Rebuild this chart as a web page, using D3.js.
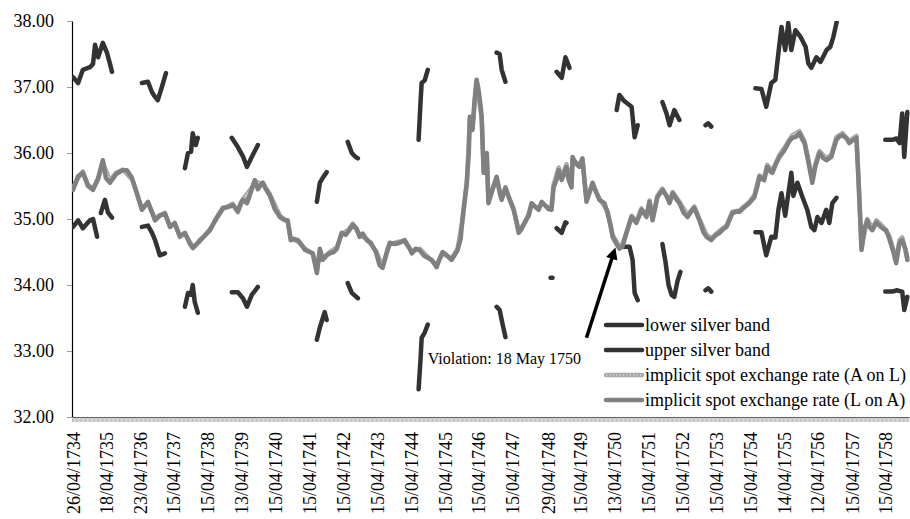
<!DOCTYPE html>
<html>
<head>
<meta charset="utf-8">
<title>Silver bands and implicit spot exchange rates</title>
<style>
  html,body{margin:0;padding:0;background:#fff;}
  svg text{font-family:'Liberation Serif','Times New Roman',serif !important;fill:#000;}
</style>
</head>
<body>
<svg id="chart"></svg>
<script src="https://d3js.org/d3.v7.min.js"></script>
<script>
var width = 910, height = 519;

// x values are decimal years, y values are the exchange rate
var dateLabels = ["26/04/1734","18/04/1735","23/04/1736","15/04/1737","15/04/1738","13/04/1739",
  "15/04/1740","15/04/1741","15/04/1742","15/04/1743","15/04/1744","15/04/1745","15/04/1746",
  "15/04/1747","29/04/1748","15/04/1749","13/04/1750","15/04/1751","15/04/1752","15/04/1753",
  "15/04/1754","14/04/1755","12/04/1756","15/04/1757","15/04/1758"];
var yTicks = [32, 33, 34, 35, 36, 37, 38];

// null = no band observed
var lowerBand = [
  [1734.35,34.88],[1734.50,34.98],[1734.64,34.86],[1734.85,34.98],[1734.94,35.00],[1735.06,34.73],[1735.11,null],
  [1735.17,35.09],[1735.29,35.29],[1735.38,35.10],[1735.50,35.02],[1735.55,null],
  [1736.38,34.88],[1736.56,34.90],[1736.68,34.79],[1736.77,34.68],[1736.91,34.45],[1737.06,34.48],[1737.10,null],
  [1737.65,33.67],[1737.74,33.88],[1737.83,33.85],[1737.88,34.00],[1737.94,33.74],[1738.03,33.58],[1738.08,null],
  [1739.03,33.89],[1739.21,33.89],[1739.36,33.80],[1739.48,33.67],[1739.62,33.85],[1739.80,33.97],[1739.85,null],
  [1741.54,33.17],[1741.63,33.36],[1741.77,33.59],[1741.83,33.47],[1741.88,null],
  [1742.45,34.03],[1742.57,33.88],[1742.75,33.80],[1742.80,null],
  [1744.54,32.42],[1744.60,32.90],[1744.63,33.20],[1744.72,33.28],[1744.81,33.40],[1744.86,null],
  [1746.84,33.67],[1746.93,33.62],[1746.99,33.47],[1747.10,33.21],[1747.15,null],
  [1748.43,34.11],[1748.49,34.11],[1748.54,null],
  [1748.61,34.86],[1748.76,34.79],[1748.87,34.95],[1748.90,34.94],[1748.95,null],
  [1750.58,34.58],[1750.76,34.58],[1750.85,34.38],[1750.91,33.88],[1751.00,33.77],[1751.05,null],
  [1751.73,34.62],[1751.82,34.35],[1751.91,34.00],[1752.00,33.85],[1752.08,33.82],[1752.17,34.05],[1752.26,34.20],[1752.31,null],
  [1753.00,33.92],[1753.08,33.95],[1753.17,33.90],[1753.22,null],
  [1754.47,34.80],[1754.65,34.80],[1754.79,34.45],[1754.94,34.73],[1755.06,34.72],[1755.15,35.14],[1755.24,35.39],
  [1755.35,35.05],[1755.53,35.70],[1755.59,35.35],[1755.71,35.55],[1755.86,35.33],[1756.00,35.14],[1756.12,34.88],
  [1756.21,34.83],[1756.30,35.03],[1756.42,34.94],[1756.56,35.14],[1756.65,34.94],[1756.74,35.24],[1756.86,35.32],[1756.91,null],
  [1758.30,33.90],[1758.51,33.90],[1758.63,33.92],[1758.80,33.90],[1758.86,33.62],[1758.95,33.82]
];

var upperBand = [
  [1734.35,37.15],[1734.50,37.06],[1734.64,37.26],[1734.85,37.30],[1734.94,37.35],[1735.00,37.64],[1735.09,37.45],
  [1735.23,37.67],[1735.35,37.52],[1735.44,37.35],[1735.50,37.23],[1735.55,null],
  [1736.38,37.06],[1736.56,37.08],[1736.68,36.92],[1736.77,36.85],[1736.85,36.80],[1736.97,37.00],[1737.09,37.21],[1737.14,null],
  [1737.65,35.77],[1737.74,36.00],[1737.83,36.02],[1737.88,36.30],[1737.97,36.12],[1738.03,36.23],[1738.08,null],
  [1739.03,36.23],[1739.21,36.09],[1739.36,35.95],[1739.48,35.79],[1739.62,35.94],[1739.80,36.12],[1739.85,null],
  [1741.54,35.26],[1741.63,35.55],[1741.71,35.62],[1741.83,35.71],[1741.88,null],
  [1742.45,36.17],[1742.57,36.00],[1742.66,35.95],[1742.75,35.92],[1742.80,null],
  [1744.54,36.20],[1744.60,36.80],[1744.63,37.06],[1744.72,37.10],[1744.81,37.26],[1744.86,null],
  [1746.84,37.52],[1746.93,37.50],[1746.99,37.26],[1747.10,37.08],[1747.15,null],
  [1748.61,37.23],[1748.76,37.14],[1748.87,37.45],[1748.99,37.29],[1749.04,null],
  [1750.38,36.65],[1750.46,36.88],[1750.58,36.80],[1750.67,36.76],[1750.82,36.70],[1750.91,36.24],[1751.00,36.42],[1751.05,null],
  [1751.73,36.77],[1751.85,36.60],[1751.94,36.42],[1752.08,36.65],[1752.23,36.50],[1752.28,null],
  [1753.00,36.42],[1753.08,36.45],[1753.17,36.40],[1753.22,null],
  [1754.47,36.98],[1754.65,36.97],[1754.79,36.70],[1754.94,37.06],[1755.06,37.11],[1755.15,37.52],[1755.24,37.91],
  [1755.35,37.56],[1755.44,37.97],[1755.53,37.56],[1755.65,37.86],[1755.80,37.76],[1755.95,37.61],[1756.03,37.36],
  [1756.12,37.29],[1756.27,37.45],[1756.39,37.38],[1756.57,37.56],[1756.68,37.61],[1756.77,37.76],[1756.86,37.97],[1756.95,38.20],[1757.00,null],
  [1758.30,36.20],[1758.51,36.20],[1758.63,36.22],[1758.72,36.15],[1758.80,36.60],[1758.86,35.94],[1758.95,36.62]
];

var spotAonL = [
  [1734.35,35.48],[1734.50,35.62],[1734.64,35.72],[1734.79,35.52],[1734.94,35.46],[1735.09,35.60],[1735.23,35.85],[1735.44,35.58],
  [1735.62,35.70],[1735.82,35.75],[1736.09,35.60],[1736.23,35.38],[1736.38,35.16],[1736.56,35.24],[1736.77,35.00],[1736.91,35.06],
  [1737.06,35.07],[1737.21,34.90],[1737.35,34.92],[1737.50,34.75],[1737.65,34.78],[1737.88,34.58],[1738.09,34.66],[1738.39,34.85],
  [1738.77,35.15],[1739.06,35.23],[1739.21,35.10],[1739.36,35.30],[1739.62,35.47],[1739.71,35.57],[1739.95,35.53],[1740.15,35.38],
  [1740.45,35.05],[1740.68,34.96],[1740.77,34.70],[1740.98,34.66],[1741.19,34.55],[1741.42,34.47],[1741.54,34.22],[1741.63,34.52],
  [1741.71,34.40],[1741.92,34.50],[1742.13,34.57],[1742.27,34.77],[1742.48,34.84],[1742.60,34.93],[1742.80,34.75],[1743.01,34.70],
  [1743.28,34.52],[1743.48,34.28],[1743.69,34.62],[1743.98,34.66],[1744.13,34.66],[1744.34,34.50],[1744.57,34.55],[1744.78,34.44],
  [1745.07,34.30],[1745.25,34.48],[1745.51,34.40],[1745.69,34.55],[1745.84,35.00],[1745.96,35.52],[1746.05,36.50],[1746.13,36.38],
  [1746.25,37.08],[1746.40,36.52],[1746.46,35.72],[1746.55,35.98],[1746.60,35.27],[1746.84,35.62],[1746.99,35.31],[1747.10,35.46],
  [1747.34,35.16],[1747.49,34.82],[1747.70,34.96],[1747.87,35.22],[1748.08,35.16],[1748.17,35.24],[1748.37,35.17],[1748.46,35.18],
  [1748.52,35.52],[1748.67,35.78],[1748.76,35.62],[1748.90,35.83],[1749.05,35.52],[1749.08,35.90],[1749.28,35.82],[1749.37,35.90],
  [1749.49,35.30],[1749.67,35.52],[1749.87,35.31],[1750.11,35.12],[1750.26,34.76],[1750.46,34.58],[1750.55,34.62],[1750.67,34.80],
  [1750.82,35.05],[1750.96,34.96],[1751.11,35.16],[1751.26,35.05],[1751.35,35.28],[1751.44,35.01],[1751.58,35.35],[1751.73,35.46],
  [1751.94,35.27],[1752.03,35.41],[1752.23,35.26],[1752.47,35.06],[1752.67,35.19],[1752.82,35.00],[1753.03,34.76],[1753.17,34.71],
  [1753.41,34.82],[1753.62,34.90],[1753.79,35.11],[1754.00,35.13],[1754.29,35.26],[1754.44,35.36],[1754.59,35.66],[1754.73,35.62],
  [1754.82,35.82],[1754.97,35.73],[1755.18,35.97],[1755.38,36.12],[1755.56,36.27],[1755.77,36.33],[1755.92,36.18],[1756.06,35.83],
  [1756.15,35.60],[1756.24,35.83],[1756.36,36.03],[1756.56,35.92],[1756.71,35.97],[1756.86,36.24],[1757.04,36.30],[1757.24,36.18],
  [1757.45,36.26],[1757.51,35.62],[1757.60,34.56],[1757.77,35.00],[1757.92,34.86],[1758.04,34.98],[1758.24,34.88],[1758.42,34.74],
  [1758.54,34.53],[1758.62,34.37],[1758.72,34.68],[1758.80,34.72],[1758.95,34.42]
];

var spotLonA = [
  [1734.35,35.44],[1734.50,35.65],[1734.64,35.70],[1734.79,35.50],[1734.94,35.44],[1735.09,35.62],[1735.23,35.89],[1735.32,35.62],
  [1735.44,35.55],[1735.62,35.68],[1735.82,35.74],[1735.94,35.74],[1736.09,35.62],[1736.23,35.40],[1736.38,35.14],[1736.56,35.26],
  [1736.68,35.10],[1736.77,34.98],[1736.91,35.05],[1737.06,35.09],[1737.21,34.88],[1737.35,34.94],[1737.50,34.73],[1737.65,34.79],
  [1737.80,34.62],[1737.88,34.56],[1738.00,34.62],[1738.09,34.68],[1738.24,34.75],[1738.39,34.83],[1738.56,35.00],[1738.77,35.17],
  [1738.92,35.18],[1739.06,35.21],[1739.21,35.12],[1739.30,35.25],[1739.36,35.29],[1739.48,35.24],[1739.62,35.45],[1739.71,35.59],
  [1739.80,35.45],[1739.89,35.52],[1739.95,35.55],[1740.04,35.45],[1740.15,35.36],[1740.30,35.15],[1740.45,35.03],[1740.60,34.98],
  [1740.68,34.98],[1740.77,34.68],[1740.86,34.70],[1740.98,34.68],[1741.10,34.60],[1741.19,34.53],[1741.33,34.50],[1741.42,34.48],
  [1741.54,34.18],[1741.63,34.55],[1741.71,34.38],[1741.83,34.45],[1741.92,34.48],[1742.04,34.50],[1742.13,34.55],[1742.27,34.79],
  [1742.39,34.76],[1742.48,34.82],[1742.60,34.91],[1742.72,34.85],[1742.80,34.73],[1742.89,34.78],[1743.01,34.68],[1743.13,34.64],
  [1743.28,34.50],[1743.39,34.30],[1743.48,34.26],[1743.60,34.50],[1743.69,34.64],[1743.84,34.62],[1743.98,34.64],[1744.13,34.68],
  [1744.28,34.55],[1744.34,34.48],[1744.45,34.55],[1744.57,34.53],[1744.69,34.45],[1744.78,34.42],[1744.93,34.38],[1745.07,34.27],
  [1745.16,34.40],[1745.25,34.50],[1745.37,34.45],[1745.51,34.38],[1745.60,34.45],[1745.69,34.53],[1745.78,34.70],[1745.84,35.03],
  [1745.90,35.30],[1745.96,35.55],[1746.02,36.00],[1746.05,36.55],[1746.10,36.50],[1746.13,36.35],[1746.19,36.80],[1746.25,37.11],
  [1746.31,36.95],[1746.37,36.70],[1746.40,36.55],[1746.43,36.10],[1746.46,35.70],[1746.52,35.90],[1746.55,36.00],[1746.60,35.24],
  [1746.72,35.45],[1746.84,35.64],[1746.93,35.40],[1746.99,35.29],[1747.10,35.48],[1747.22,35.30],[1747.34,35.14],[1747.43,34.95],
  [1747.49,34.79],[1747.58,34.85],[1747.70,34.98],[1747.79,35.05],[1747.87,35.24],[1747.99,35.18],[1748.08,35.14],[1748.17,35.26],
  [1748.28,35.20],[1748.37,35.15],[1748.46,35.14],[1748.52,35.48],[1748.61,35.60],[1748.67,35.74],[1748.76,35.59],[1748.84,35.70],
  [1748.90,35.79],[1748.96,35.60],[1749.05,35.48],[1749.08,35.94],[1749.16,35.85],[1749.28,35.79],[1749.37,35.92],[1749.49,35.26],
  [1749.58,35.40],[1749.67,35.55],[1749.78,35.40],[1749.87,35.29],[1750.02,35.24],[1750.11,35.09],[1750.20,34.90],[1750.26,34.73],
  [1750.38,34.62],[1750.46,34.55],[1750.55,34.58],[1750.67,34.79],[1750.82,35.03],[1750.96,34.94],[1751.05,35.05],[1751.11,35.14],
  [1751.26,35.03],[1751.35,35.26],[1751.44,34.98],[1751.58,35.33],[1751.73,35.44],[1751.85,35.35],[1751.94,35.24],[1752.03,35.39],
  [1752.14,35.30],[1752.23,35.24],[1752.35,35.10],[1752.47,35.03],[1752.59,35.12],[1752.67,35.17],[1752.82,34.98],[1752.94,34.80],
  [1753.03,34.73],[1753.17,34.68],[1753.29,34.75],[1753.41,34.79],[1753.53,34.85],[1753.62,34.88],[1753.70,34.98],[1753.79,35.09],
  [1753.91,35.11],[1754.00,35.11],[1754.15,35.18],[1754.29,35.24],[1754.44,35.33],[1754.53,35.50],[1754.59,35.64],[1754.68,35.60],
  [1754.73,35.59],[1754.82,35.79],[1754.91,35.72],[1754.97,35.70],[1755.09,35.85],[1755.18,35.94],[1755.30,36.02],[1755.38,36.09],
  [1755.47,36.18],[1755.56,36.23],[1755.68,36.25],[1755.77,36.30],[1755.86,36.20],[1755.92,36.15],[1756.00,35.95],[1756.06,35.79],
  [1756.15,35.55],[1756.24,35.80],[1756.36,36.00],[1756.48,35.92],[1756.56,35.89],[1756.71,35.94],[1756.80,36.10],[1756.86,36.20],
  [1756.95,36.25],[1757.04,36.27],[1757.16,36.22],[1757.24,36.15],[1757.36,36.20],[1757.45,36.23],[1757.51,35.60],[1757.57,34.90],
  [1757.60,34.53],[1757.68,34.85],[1757.77,34.98],[1757.83,34.88],[1757.92,34.83],[1758.04,34.95],[1758.13,34.90],[1758.24,34.85],
  [1758.33,34.83],[1758.42,34.70],[1758.54,34.50],[1758.62,34.33],[1758.72,34.64],[1758.80,34.68],[1758.89,34.55],[1758.95,34.38]
];

var seriesNames = ["lower silver band", "upper silver band",
  "implicit spot exchange rate (A on L)", "implicit spot exchange rate (L on A)"];

// annotation: label anchor, arrow tail and arrow tip
var noteText = "Violation: 18 May 1750";
var notePos = [1744.81, 32.80];
var arrowFrom = [1749.49, 33.20];
var arrowTo = [1750.30, 34.50];

function dateToYear(s) {
  var p = s.split("/").map(Number);
  var before = [0,31,59,90,120,151,181,212,243,273,304,334];
  return p[2] + (before[p[1]-1] + p[0] - 1) / 365;
}

var svg = d3.select("#chart").attr("width", width).attr("height", height)
  .style("font-family", "'Liberation Serif', 'Times New Roman', serif");

var x = d3.scaleLinear().domain([1734.32, 1759.0]).range([72, 909]);
var y = d3.scaleLinear().domain([32, 38]).range([417, 21]);

var defs = svg.append("defs");
defs.append("clipPath").attr("id", "plot")
  .append("rect").attr("x", 72).attr("y", 21).attr("width", 838).attr("height", 396);

defs.append("marker")
  .attr("id", "head").attr("viewBox", "0 0 10 10")
  .attr("refX", 6).attr("refY", 5)
  .attr("markerWidth", 3.6).attr("markerHeight", 3.4)
  .attr("orient", "auto")
  .append("path").attr("d", "M0,0L10,5L0,10Z").attr("fill", "#000");

// y axis
var yAxis = svg.append("g").attr("transform", "translate(72,0)")
  .call(d3.axisLeft(y).tickValues(yTicks).tickFormat(d3.format(".2f"))
    .tickSize(5).tickSizeOuter(0).tickPadding(13));
yAxis.selectAll(".tick line").attr("stroke", "#999");
yAxis.select(".domain").attr("stroke", "#000").attr("stroke-width", 1.2);
yAxis.selectAll("text").attr("font-size", 18).attr("font-family", "Liberation Serif");

// x axis: one small tick per fortnightly observation
var minor = d3.range(1734.32, 1759.0, 1 / 26);
var xMinor = svg.append("g").attr("transform", "translate(0,417)")
  .call(d3.axisBottom(x).tickValues(minor).tickFormat("").tickSize(5).tickSizeOuter(0));
xMinor.selectAll(".tick line").attr("stroke", "#aaa").attr("stroke-width", 0.8);
xMinor.select(".domain").attr("stroke", "#000").attr("stroke-width", 1.2);

var labelPos = dateLabels.map(dateToYear);
var xAxis = svg.append("g").attr("transform", "translate(0,417)")
  .call(d3.axisBottom(x).tickValues(labelPos)
    .tickFormat(function(d, i) { return dateLabels[i]; }).tickSize(0).tickSizeOuter(0));
xAxis.select(".domain").remove();
xAxis.selectAll("text")
  .attr("font-size", 18).attr("font-family", "Liberation Serif")
  .attr("text-anchor", "end")
  .attr("transform", "rotate(-90)")
  .attr("x", -15).attr("y", 0).attr("dy", "0.4em");

// series
var line = d3.line()
  .defined(function(d) { return d[1] != null; })
  .x(function(d) { return x(d[0]); })
  .y(function(d) { return y(d[1]); });

var plot = svg.append("g").attr("clip-path", "url(#plot)");

function drawLine(data, color, w) {
  return plot.append("path").datum(data)
    .attr("d", line)
    .attr("fill", "none")
    .attr("stroke", color)
    .attr("stroke-width", w)
    .attr("stroke-linejoin", "round")
    .attr("stroke-linecap", "round");
}

drawLine(lowerBand, "#333", 4.5);
drawLine(upperBand, "#333", 4.5);
drawLine(spotAonL, "#a8a8a8", 4.5);
drawLine(spotAonL, "#dcdcdc", 1.4).attr("stroke-dasharray", "1.2,2.2");
drawLine(spotLonA, "#808080", 4.5);

// annotation
svg.append("line")
  .attr("x1", x(arrowFrom[0])).attr("y1", y(arrowFrom[1]))
  .attr("x2", x(arrowTo[0])).attr("y2", y(arrowTo[1]))
  .attr("stroke", "#000").attr("stroke-width", 3.5)
  .attr("marker-end", "url(#head)");

svg.append("text")
  .attr("x", x(notePos[0])).attr("y", y(notePos[1]))
  .attr("font-size", 16)
  .text(noteText);

// legend
var legend = svg.append("g").attr("transform", "translate(605,325)");
var legendRows = legend.selectAll("g").data(seriesNames).enter().append("g")
  .attr("transform", function(d, i) { return "translate(0," + (i * 25) + ")"; });

var legendStyle = [
  {c: "#333", w: 4.5}, {c: "#333", w: 4.5}, {c: "#a8a8a8", w: 4.5}, {c: "#808080", w: 4.5}
];
legendRows.append("line")
  .attr("x1", 1).attr("x2", 37).attr("y1", 0).attr("y2", 0)
  .attr("stroke", function(d, i) { return legendStyle[i].c; })
  .attr("stroke-width", function(d, i) { return legendStyle[i].w; })
  .attr("stroke-linecap", "round");
legendRows.filter(function(d, i) { return i === 2; }).append("line")
  .attr("x1", 1).attr("x2", 37).attr("y1", 0).attr("y2", 0)
  .attr("stroke", "#dcdcdc").attr("stroke-width", 1.4)
  .attr("stroke-dasharray", "1.2,2.2");
legendRows.append("text")
  .attr("x", 40).attr("y", 0).attr("dy", "0.33em")
  .attr("font-size", 18)
  .text(function(d) { return d; });
</script>
</body>
</html>
